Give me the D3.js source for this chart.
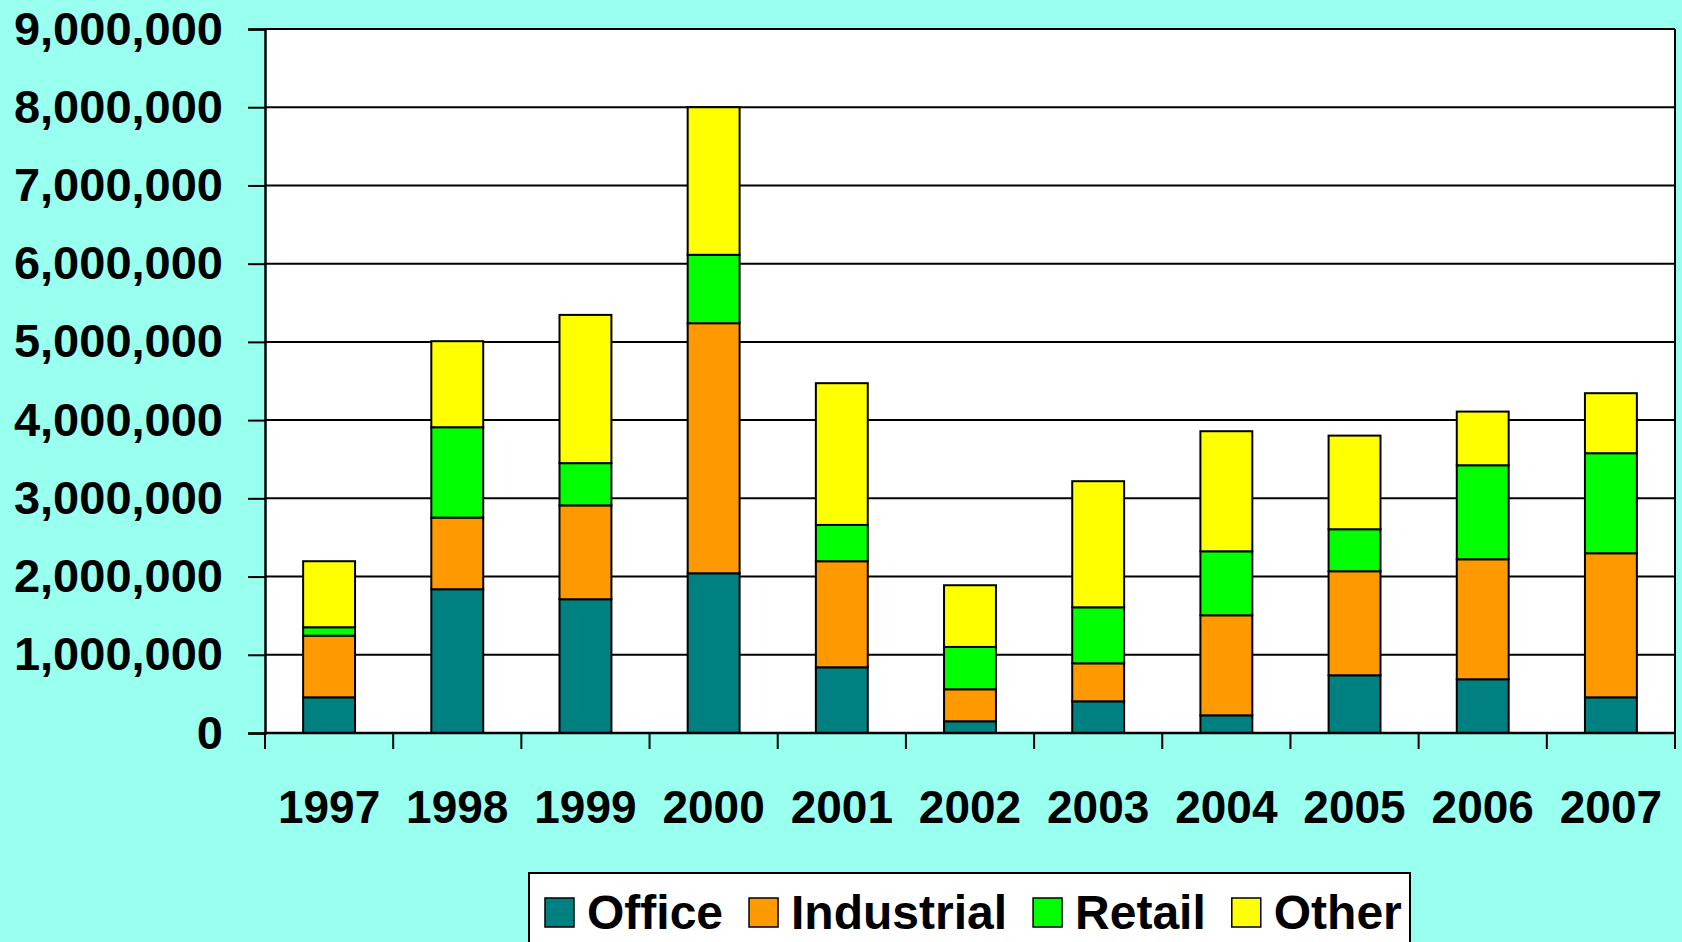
<!DOCTYPE html>
<html>
<head>
<meta charset="utf-8">
<script src="https://cdn.jsdelivr.net/npm/d3@7"></script>
<style>
  html, body { margin: 0; padding: 0; background: #99ffee; }
  svg { display: block; }
  text { font-family: "Liberation Sans", Arial, sans-serif; font-weight: bold; fill: #000; }
</style>
</head>
<body>
<svg id="chart" width="1682" height="942"></svg>
<script>
const years = ["1997","1998","1999","2000","2001","2002","2003","2004","2005","2006","2007"];
const seriesNames = ["Office","Industrial","Retail","Other"];
const office     = [456000, 1838000, 1710000, 2042000, 840000, 150000, 405000, 226000, 738000, 687000, 456000];
const industrial = [788000, 916000, 1200000, 3197000, 1356000, 409000, 486000, 1279000, 1330000, 1534000, 1842000];
const retail     = [108000, 1155000, 540000, 874000, 464000, 541000, 716000, 818000, 537000, 1202000, 1279000];
const other      = [844000, 1100000, 1895000, 1887000, 1812000, 789000, 1612000, 1535000, 1197000, 686000, 767000];
const yTicks = [0,1000000,2000000,3000000,4000000,5000000,6000000,7000000,8000000,9000000];
const colors = ["#008080","#ff9900","#00ff00","#ffff00"];

const svg = d3.select("#chart");
const L = 265, R = 1675, T = 29, B = 733;

const x = d3.scaleBand().domain(years).range([L, R]).paddingInner(0).paddingOuter(0);
const y = d3.scaleLinear().domain([0, 9000000]).range([B, T]);
const color = d3.scaleOrdinal().domain(seriesNames).range(colors);

const table = years.map((yr, i) => ({year: yr, Office: office[i], Industrial: industrial[i], Retail: retail[i], Other: other[i]}));
const stacked = d3.stack().keys(seriesNames)(table);

// plot background
svg.append("rect").attr("x", L).attr("y", T).attr("width", R - L).attr("height", B - T).attr("fill", "#fff");

// gridlines
svg.append("g").selectAll("line").data(yTicks.filter(d => d > 0)).join("line")
  .attr("x1", L).attr("x2", R).attr("y1", d => y(d)).attr("y2", d => y(d))
  .attr("stroke", "#000").attr("stroke-width", 2);

// right border
svg.append("line").attr("x1", R).attr("x2", R).attr("y1", T).attr("y2", B).attr("stroke", "#000").attr("stroke-width", 2);

// bars
const bw = x.bandwidth() * 0.405;
svg.append("g").selectAll("g").data(stacked).join("g")
  .attr("fill", d => color(d.key))
  .selectAll("rect").data(d => d).join("rect")
  .attr("x", d => x(d.data.year) + (x.bandwidth() - bw) / 2)
  .attr("width", bw)
  .attr("y", d => y(d[1]))
  .attr("height", d => y(d[0]) - y(d[1]))
  .attr("stroke", "#000").attr("stroke-width", 2);

// y axis
const yAxis = d3.axisLeft(y).tickValues(yTicks).tickSize(17).tickPadding(25).tickFormat(d3.format(","));
const gy = svg.append("g").attr("transform", `translate(${L},0)`).call(yAxis);
gy.select(".domain").attr("stroke", "#000").attr("stroke-width", 2.5);
gy.selectAll(".tick line").attr("stroke", "#000").attr("stroke-width", 2);
gy.selectAll(".tick text").style("font-size", "47px").style("font-family", "'Liberation Sans', Arial, sans-serif").style("font-weight", "bold").attr("fill", "#000");

// x axis: tick marks at band boundaries
const xAxis = svg.append("g");
xAxis.append("line").attr("x1", L).attr("x2", R).attr("y1", B).attr("y2", B).attr("stroke", "#000").attr("stroke-width", 2.5);
const boundaries = years.map(yr => x(yr)).concat([x(years[years.length-1]) + x.bandwidth()]);
xAxis.selectAll("line.tk").data(boundaries).join("line").attr("class","tk")
  .attr("x1", d => d).attr("x2", d => d).attr("y1", B).attr("y2", B + 16)
  .attr("stroke", "#000").attr("stroke-width", 2);
xAxis.selectAll("text").data(years).join("text")
  .attr("x", d => x(d) + x.bandwidth() / 2).attr("y", 823)
  .attr("text-anchor", "middle").style("font-size", "46px").text(d => d);

// legend
const lg = svg.append("g");
lg.append("rect").attr("x", 529).attr("y", 873).attr("width", 881).attr("height", 100)
  .attr("fill", "#fff").attr("stroke", "#000").attr("stroke-width", 2);
let cx = 545;
seriesNames.forEach((name, i) => {
  lg.append("rect").attr("x", cx).attr("y", 898).attr("width", 29).attr("height", 29)
    .attr("fill", colors[i]).attr("stroke", "#000").attr("stroke-width", 1.5);
  const t = lg.append("text").attr("x", cx + 42).attr("y", 929).style("font-size", "48px").text(name);
  cx = cx + 42 + t.node().getComputedTextLength() + 26;
});
</script>
</body>
</html>
